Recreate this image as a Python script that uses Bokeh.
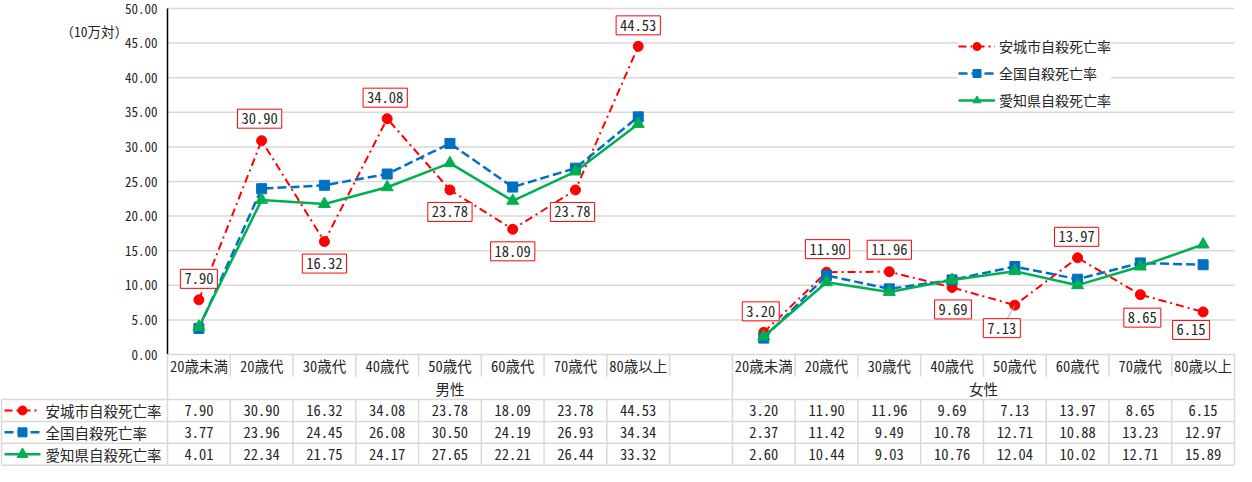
from bokeh.plotting import figure
from bokeh.models import Range1d, Legend, LegendItem
from bokeh.core.properties import value
from bokeh.embed import file_html
from bokeh.resources import INLINE

# ---------------- data ----------------
age_groups = ["20歳未満", "20歳代", "30歳代", "40歳代", "50歳代", "60歳代", "70歳代", "80歳以上"]
sexes = ["男性", "女性"]
series_names = ["安城市自殺死亡率", "全国自殺死亡率", "愛知県自殺死亡率"]

anjo_male = [7.90, 30.90, 16.32, 34.08, 23.78, 18.09, 23.78, 44.53]
anjo_female = [3.20, 11.90, 11.96, 9.69, 7.13, 13.97, 8.65, 6.15]
zenkoku_male = [3.77, 23.96, 24.45, 26.08, 30.50, 24.19, 26.93, 34.34]
zenkoku_female = [2.37, 11.42, 9.49, 10.78, 12.71, 10.88, 13.23, 12.97]
aichi_male = [4.01, 22.34, 21.75, 24.17, 27.65, 22.21, 26.44, 33.32]
aichi_female = [2.60, 10.44, 9.03, 10.76, 12.04, 10.02, 12.71, 15.89]

y_ticks = [0, 5, 10, 15, 20, 25, 30, 35, 40, 45, 50]
unit_label = "（10万対）"

# ---------------- layout / style ----------------
W, H = 1236, 466
PLOT_LEFT_PX = 167
SLOTS = 17
SLOT_PX = (W - PLOT_LEFT_PX - 2) / SLOTS
X0 = -PLOT_LEFT_PX / SLOT_PX
X1 = SLOTS + 2 / SLOT_PX
TOP_PX, ZERO_PX = 8, 354
PXY = (ZERO_PX - TOP_PX) / 50.0
Y1 = 50 + TOP_PX / PXY
Y0 = Y1 - H / PXY

FONT = "'Noto Sans Mono CJK JP', 'Noto Sans CJK JP', sans-serif"
TXT = "#262626"
GRID = "#D9D9D9"
colors = ["#FF0000", "#0070C0", "#00B050"]
dashes = ["8 4 2 4", "9 4", "solid"]
markers = ["circle", "square", "triangle"]
msizes = [10, 10, 12]
lwidths = [2, 2.5, 2.5]
group_start = [0, 9]

# label offsets (pixels) for 安城市 data labels
lab_dx_px = [[0, -2, 0, -2, 0, 0, -3, 0], [-3, 1, 0, 1, -13, -1, 2, -12]]
lab_dy_px = [[21, 22, -22, 21, -22, -22, -22, 21], [21, 23, 22, -22, -23, 21, -23, -18]]
leader = [(1, 4)]

# table row boundaries (y units)
HDR_BOT = -3.2
SEX_BOT = -6.5
ROW_B = [-6.5, -9.67, -12.83, -16.0]

p = figure(width=W, height=H, output_backend="svg", toolbar_location=None,
           x_range=Range1d(X0, X1), y_range=Range1d(Y0, Y1),
           x_axis_location=None, y_axis_location=None, min_border=0,
           outline_line_color=None, background_fill_color="white")
p.grid.visible = False

# gridlines and y-axis
gy = [t for t in y_ticks if t > 0]
p.segment(x0=[0] * len(gy), x1=[SLOTS] * len(gy), y0=gy, y1=gy, line_color=GRID, line_width=1.5)
p.segment(x0=[0], x1=[0], y0=[0], y1=[max(y_ticks)], line_color="black", line_width=1.5)
p.text(x=[0] * len(y_ticks), y=y_ticks, text=[f"{t:.2f}" for t in y_ticks], x_offset=-10,
       text_align="right", text_baseline="middle", text_font=value(FONT),
       text_font_size="13px", text_color=TXT)
p.text(x=[X0 + 60 / SLOT_PX], y=[Y1 - 30 / PXY], text=[unit_label], text_align="left",
       text_baseline="middle", text_font=value(FONT), text_font_size="13.5px", text_color=TXT)

# ---------------- table grid ----------------
XL = X0 + 1 / SLOT_PX
inner = [k for k in range(1, SLOTS) if k != 9]
p.segment(x0=[0], x1=[SLOTS], y0=[0], y1=[0], line_color=GRID, line_width=1.5)
p.segment(x0=inner, x1=inner, y0=[0] * len(inner), y1=[HDR_BOT] * len(inner), line_color=GRID, line_width=1.5)
p.segment(x0=inner, x1=inner, y0=[SEX_BOT] * len(inner), y1=[ROW_B[-1]] * len(inner), line_color=GRID, line_width=1.5)
full = [0, 9, SLOTS]
p.segment(x0=full, x1=full, y0=[0] * 3, y1=[ROW_B[-1]] * 3, line_color=GRID, line_width=1.5)
p.segment(x0=[XL], x1=[XL], y0=[SEX_BOT], y1=[ROW_B[-1]], line_color=GRID, line_width=1.5)
p.segment(x0=[XL] * 4, x1=[SLOTS] * 4, y0=ROW_B, y1=ROW_B, line_color=GRID, line_width=1.5)

# category headers
cat_x, cat_t = [], []
for g in range(2):
    for i, a in enumerate(age_groups):
        cat_x.append(group_start[g] + i + 0.5)
        cat_t.append(a)
p.text(x=cat_x, y=[HDR_BOT / 2] * len(cat_x), text=cat_t, text_align="center",
       text_baseline="middle", text_font=value(FONT), text_font_size="14.5px", text_color=TXT)
p.text(x=[4.5, 13], y=[(HDR_BOT + SEX_BOT) / 2] * 2, text=sexes, text_align="center",
       text_baseline="middle", text_font=value(FONT), text_font_size="14.5px", text_color=TXT)

# ---------------- series ----------------
data = [[anjo_male, anjo_female], [zenkoku_male, zenkoku_female], [aichi_male, aichi_female]]
legend_items = []
for s in range(3):
    rends = []
    allx, ally = [], []
    for g in range(2):
        xs = [group_start[g] + i + 0.5 for i in range(len(age_groups))]
        r = p.line(xs, data[s][g], line_color=colors[s], line_width=lwidths[s], line_dash=dashes[s])
        if g == 0:
            rends.append(r)
        allx += xs
        ally += data[s][g]
    sr = p.scatter(allx, ally, marker=markers[s], size=msizes[s], fill_color=colors[s], line_color=colors[s])
    rends.append(sr)
    legend_items.append(LegendItem(label=series_names[s], renderers=rends))

    # table row
    row_y = (ROW_B[s] + ROW_B[s + 1]) / 2
    p.text(x=allx, y=[row_y] * len(allx), text=[f"{v:.2f}" for v in ally], text_align="center",
           text_baseline="middle", text_font=value(FONT), text_font_size="14.5px", text_color=TXT)
    sx0, sx1, sm = X0 + 4 / SLOT_PX, X0 + 40 / SLOT_PX, X0 + 22 / SLOT_PX
    p.line([sx0, sx1], [row_y, row_y], line_color=colors[s], line_width=lwidths[s], line_dash=dashes[s])
    p.scatter([sm], [row_y], marker=markers[s], size=msizes[s] - 1, fill_color=colors[s], line_color=colors[s])
    p.text(x=[X0 + 45 / SLOT_PX], y=[row_y], text=[series_names[s]], text_align="left",
           text_baseline="middle", text_font=value(FONT), text_font_size="14.5px", text_color=TXT)

# ---------------- data labels (安城市) ----------------
lx, ly, lt, px_, py_ = [], [], [], [], []
for g in range(2):
    for i, v in enumerate(data[0][g]):
        x = group_start[g] + i + 0.5
        lx.append(x + lab_dx_px[g][i] / SLOT_PX)
        ly.append(v + lab_dy_px[g][i] / PXY)
        lt.append(f"{v:.2f}")
        px_.append(x)
        py_.append(v)
for g, i in leader:
    k = g * 8 + i
    p.segment(x0=[px_[k]], y0=[py_[k]], x1=[lx[k]], y1=[ly[k]], line_color="#A6A6A6", line_width=1)
p.text(x=lx, y=ly, text=lt, text_align="center", text_baseline="middle",
       text_font=value(FONT), text_font_size="14.5px", text_color=TXT,
       background_fill_color="white", border_line_color="#FF0000", border_line_width=1, padding=4)

legend = Legend(items=legend_items, location=(958, 356), orientation="vertical",
                label_text_font=FONT, label_text_font_size="14px", label_text_color=TXT,
                glyph_width=37, glyph_height=20, spacing=7, padding=4, margin=0,
                label_standoff=4, border_line_color=None, background_fill_alpha=1.0)
p.add_layout(legend)

open("out.html", "w").write(file_html(p, INLINE))
